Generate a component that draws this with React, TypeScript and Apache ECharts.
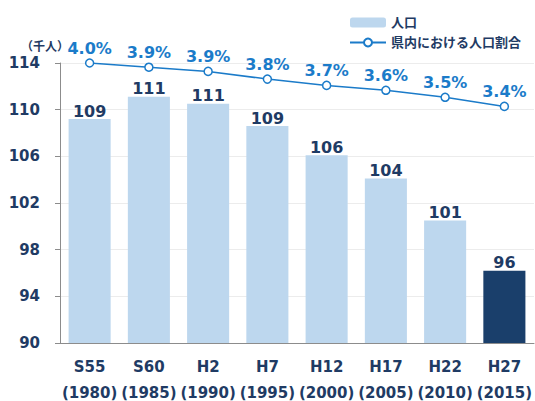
import React, { useEffect, useRef } from "react";
import * as echarts from "echarts";

const categories = ["S55\n(1980)", "S60\n(1985)", "H2\n(1990)", "H7\n(1995)", "H12\n(2000)", "H17\n(2005)", "H22\n(2010)", "H27\n(2015)"];
const population = [109.2, 111.1, 110.5, 108.6, 106.1, 104.1, 100.5, 96.2];
const share = [4.0, 3.94, 3.88, 3.77, 3.68, 3.61, 3.51, 3.38];

const NAVY = "#1F3B64";
const LIGHT = "#BDD7EE";
const DARK = "#1A3F6B";
const BLUE = "#1B7BC9";
const FONT = "'DejaVu Sans', Verdana, 'Noto Sans CJK JP', sans-serif";

export default function App() {
  const ref = useRef<HTMLDivElement>(null);
  useEffect(() => {
    document.body.style.margin = "0";
    const chart = echarts.init(ref.current!, null, { renderer: "svg" });
    chart.setOption({
      animation: false,
      textStyle: { fontFamily: FONT },
      grid: { left: 60, right: 1, top: 63, bottom: 58, containLabel: false, outerBoundsMode: "none" },
      legend: {
        orient: "vertical",
        left: 344,
        top: 11,
        itemWidth: 36,
        itemHeight: 10,
        itemGap: 7,
        textStyle: { color: NAVY, fontWeight: "bold", fontSize: 13, fontFamily: FONT },
        data: [
          { name: "人口", itemStyle: { color: LIGHT } },
          { name: "県内における人口割合" },
        ],
      },
      graphic: [
        {
          type: "text",
          left: 21,
          top: 41,
          style: { text: "（千人）", fill: NAVY, font: `bold 12px ${FONT}` },
        },
      ],
      xAxis: {
        type: "category",
        data: categories,
        axisLine: { lineStyle: { color: "#8c8c8c" } },
        axisTick: { length: 5, lineStyle: { color: "#8c8c8c" } },
        axisLabel: {
          color: NAVY,
          fontWeight: "bold",
          fontSize: 15,
          lineHeight: 26,
          margin: 11,
          interval: 0,
          fontFamily: FONT,
        },
      },
      yAxis: [
        {
          type: "value",
          min: 90,
          max: 114,
          interval: 4,
          axisLine: { show: true, lineStyle: { color: "#8c8c8c" } },
          axisTick: { show: true, length: 5, lineStyle: { color: "#8c8c8c" } },
          splitLine: { lineStyle: { color: "#ececec" } },
          axisLabel: { color: NAVY, fontWeight: "bold", fontSize: 15, margin: 20, fontFamily: FONT },
        },
        {
          type: "value",
          min: 0,
          max: 4.0,
          show: false,
          splitLine: { show: false },
        },
      ],
      series: [
        {
          name: "人口",
          type: "bar",
          barWidth: "71%",
          data: population.map((v, i) => ({
            value: v,
            itemStyle: { color: i === population.length - 1 ? DARK : LIGHT },
          })),
          label: {
            show: true,
            position: "top",
            distance: 0,
            color: NAVY,
            fontWeight: "bold",
            fontSize: 16,
            fontFamily: FONT,
            formatter: (p: any) => String(Math.round(p.value)),
          },
        },
        {
          name: "県内における人口割合",
          type: "line",
          yAxisIndex: 1,
          data: share,
          symbol: "circle",
          symbolSize: 8,
          lineStyle: { color: BLUE, width: 1.5 },
          itemStyle: { color: "#ffffff", borderColor: BLUE, borderWidth: 1.5 },
          label: {
            show: true,
            position: "top",
            distance: 2,
            color: BLUE,
            fontWeight: "bold",
            fontSize: 16,
            fontFamily: FONT,
            formatter: (p: any) => p.value.toFixed(1) + "%",
          },
        },
      ],
    });
    return () => chart.dispose();
  }, []);
  return <div ref={ref} style={{ width: 535, height: 401 }} />;
}
